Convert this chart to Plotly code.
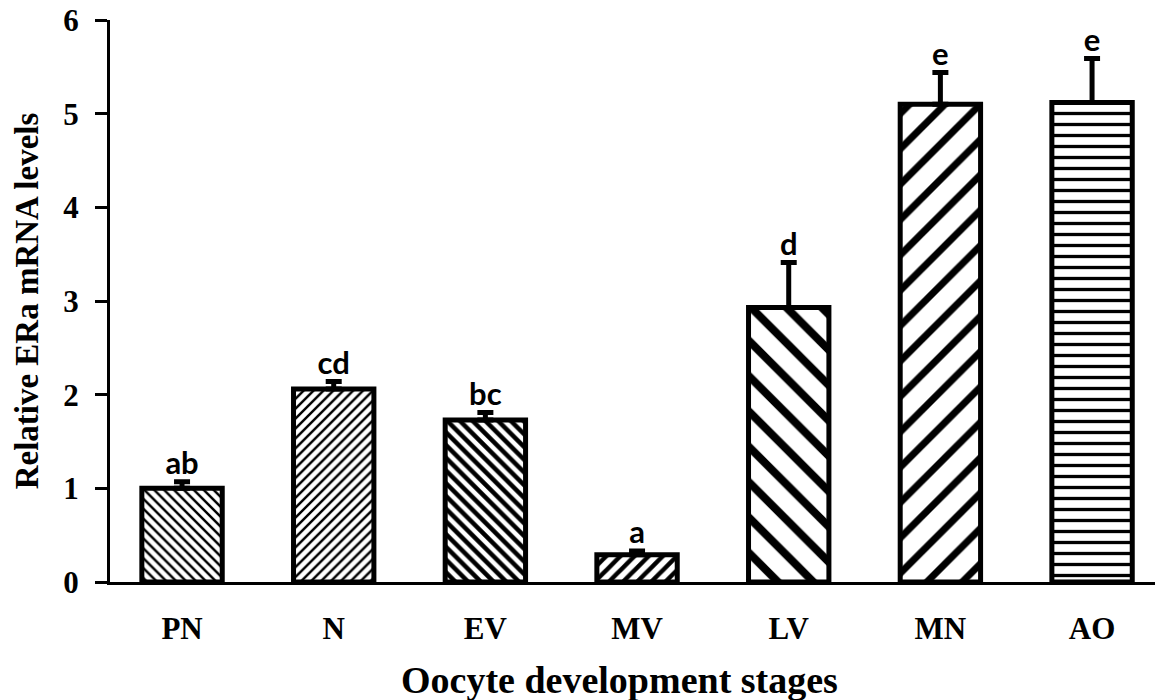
import plotly.graph_objects as go

stages = ["PN", "N", "EV", "MV", "LV", "MN", "AO"]
values = [1.00, 2.06, 1.73, 0.29, 2.93, 5.10, 5.12]
errors = [0.07, 0.08, 0.08, 0.04, 0.48, 0.34, 0.47]
letters = ["ab", "cd", "bc", "a", "d", "e", "e"]
shapes = ["\\", "/", "\\", "/", "\\", "/", "-"]
psizes = [7, 7, 9, 10, 25, 25, 11]
psolid = [0.35, 0.35, 0.5, 0.45, 0.32, 0.28, 0.3]

xs = list(range(len(stages)))

fig = go.Figure()
fig.add_trace(go.Bar(
    x=xs, y=values, width=0.53,
    marker=dict(color="white",
                line=dict(color="black", width=5),
                pattern=dict(shape=shapes, size=psizes, solidity=psolid,
                             fgcolor="black", bgcolor="white", fgopacity=1,
                             fillmode="overlay")),
    error_y=dict(type="data", symmetric=False, array=errors,
                 arrayminus=[0] * len(errors), color="black", thickness=5, width=8),
    showlegend=False, hoverinfo="skip",
))
fig.add_trace(go.Scatter(
    x=xs, y=[v + e for v, e in zip(values, errors)], mode="text",
    text=letters, textposition="top center",
    textfont=dict(family="Lato", size=31, color="black", weight="bold"),
    showlegend=False, cliponaxis=False, hoverinfo="skip",
))

serif = "Liberation Serif"
fig.update_layout(
    width=1161, height=700,
    margin=dict(l=110, r=6, t=20, b=118),
    plot_bgcolor="white", paper_bgcolor="white",
    font=dict(family=serif, color="black"),
    xaxis=dict(range=[-0.475, 6.415], tickmode="array", tickvals=xs, ticktext=stages,
               showline=True, linecolor="black", linewidth=3, ticks="",
               ticklabelstandoff=17, automargin=False,
               showgrid=False, zeroline=False,
               tickfont=dict(family=serif, size=31, weight="bold", color="black")),
    yaxis=dict(range=[0, 6], dtick=1, showline=True, linecolor="black", linewidth=3,
               ticks="outside", ticklen=12, tickwidth=3, tickcolor="black",
               ticklabelstandoff=10, automargin=False, ticklabeloverflow="allow",
               showgrid=False, zeroline=False,
               tickfont=dict(family=serif, size=31, weight="bold", color="black"),
               title=dict(text="Relative ERa mRNA levels", standoff=15,
                          font=dict(family=serif, size=33, weight="bold", color="black"))),
    annotations=[dict(text="Oocyte development stages", xref="paper", yref="paper",
                      x=0.488, y=0, yshift=-98, xanchor="center", yanchor="middle",
                      showarrow=False,
                      font=dict(family=serif, size=38, weight="bold", color="black"))],
)

fig.write_html("out.html", config={"displayModeBar": False},
               post_script="document.body.style.margin='0';")
